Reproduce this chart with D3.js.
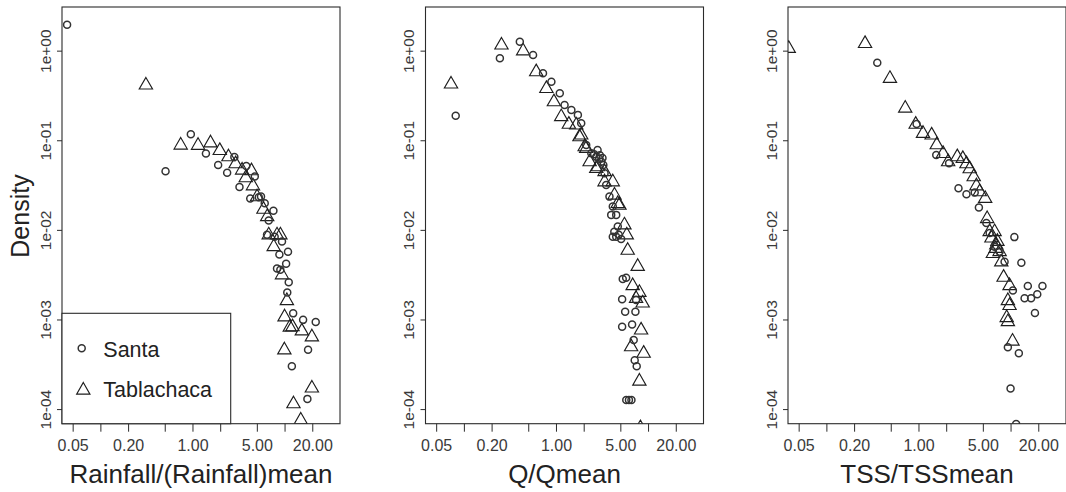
<!DOCTYPE html>
<html>
<head>
<meta charset="utf-8">
<script src="https://cdn.jsdelivr.net/npm/d3@7"></script>
<style>
  body { margin: 0; background: #fff; }
  svg { display: block; font-family: "Liberation Sans", Arial, sans-serif; }
</style>
</head>
<body>
<svg id="chart" width="1066" height="492"></svg>
<script>
// density vs normalised value, [x, density] pairs
const rainfallSanta = [[0.0435,1.94],[0.96,0.117],[0.51,0.045],[1.40,0.071],[1.90,0.053],[2.38,0.0435],[2.85,0.065],[3.84,0.0517],[4.75,0.0395],[3.24,0.030],[4.24,0.0224],[5.25,0.0231],[5.55,0.0235],[6.09,0.0198],[7.57,0.0163],[6.73,0.0127],[6.45,0.0088],[7.81,0.0084],[9.38,0.0074],[8.79,0.0053],[10.9,0.0057],[10.4,0.0042],[8.28,0.0037],[9.0,0.0036],[11.1,0.0026],[10.7,0.0020],[12.4,0.00117],[15.9,0.00099],[21.8,0.00094],[18.0,0.00046],[12.0,0.00030],[17.7,0.00013]];
const rainfallTabla = [[0.312,0.433],[0.745,0.0926],[1.15,0.092],[1.57,0.098],[1.98,0.0805],[2.46,0.0685],[2.94,0.0573],[3.46,0.0487],[3.79,0.040],[4.37,0.0479],[4.54,0.0325],[5.03,0.0245],[5.90,0.0178],[6.48,0.0147],[6.73,0.0092],[7.62,0.0068],[8.28,0.0092],[9.01,0.0092],[9.38,0.0033],[10.6,0.0017],[10.0,0.00112],[11.4,0.00086],[12.2,0.00087],[15.4,0.00078],[19.8,0.00067],[9.95,0.00048],[19.8,0.00018],[12.5,0.00012],[15.0,0.000079]];

const qSanta = [[0.0815,0.188],[0.246,0.822],[0.405,1.26],[0.564,0.895],[0.723,0.56],[0.892,0.451],[1.10,0.335],[1.24,0.248],[1.47,0.218],[1.73,0.192],[1.88,0.155],[2.13,0.0887],[2.42,0.0716],[2.6,0.07],[2.74,0.0656],[2.83,0.078],[2.95,0.062],[3.0,0.068],[3.1,0.0577],[3.2,0.0634],[3.27,0.053],[3.37,0.0428],[3.51,0.0317],[3.81,0.0235],[4.14,0.0182],[3.98,0.0147],[4.51,0.0147],[4.69,0.0109],[4.51,0.0084],[4.3,0.0095],[4.8,0.0088],[5.1,0.0079],[4.14,0.0084],[5.31,0.00283],[5.78,0.00293],[5.23,0.00168],[7.41,0.00165],[5.64,0.00122],[7.29,0.00122],[5.23,0.00083],[6.71,0.00088],[6.98,0.00059],[7.16,0.00035],[7.53,0.00030],[5.8,0.000126],[6.2,0.000126],[6.6,0.000126]];
const qTabla = [[0.0725,0.444],[0.256,1.21],[0.44,1.04],[0.61,0.609],[0.787,0.396],[0.95,0.282],[1.14,0.192],[1.38,0.158],[1.66,0.155],[1.80,0.1146],[1.88,0.12],[2.05,0.0887],[2.13,0.0849],[2.32,0.0603],[2.74,0.0507],[2.85,0.053],[3.37,0.0467],[3.37,0.036],[4.14,0.036],[4.32,0.0256],[4.69,0.0206],[4.89,0.0198],[5.54,0.0119],[5.87,0.0092],[6.01,0.0062],[7.72,0.0041],[6.81,0.0025],[8.05,0.0021],[7.41,0.0018],[8.74,0.0016],[8.4,0.0008],[6.55,0.00052],[8.96,0.00044],[8.05,0.000215],[8.26,0.000065]];

const tssSanta = [[0.357,0.735],[0.954,0.152],[1.56,0.0686],[2.15,0.0554],[2.72,0.0291],[3.32,0.025],[4.08,0.0261],[4.53,0.0178],[5.46,0.0119],[5.93,0.0092],[6.71,0.0065],[11.0,0.0083],[7.6,0.0057],[8.61,0.0044],[13.1,0.0043],[10.6,0.0021],[15.4,0.00237],[22.2,0.00237],[14.2,0.00173],[16.7,0.00173],[19.5,0.00191],[18.4,0.00118],[9.35,0.00049],[12.3,0.00042],[10.0,0.00017],[11.5,0.000068]];
const tssTabla = [[0.039,1.11],[0.263,1.26],[0.49,0.513],[0.718,0.239],[0.933,0.158],[1.12,0.125],[1.39,0.12],[1.58,0.0933],[1.85,0.0746],[2.1,0.0603],[2.64,0.0686],[3.03,0.0656],[3.32,0.0573],[3.6,0.0504],[3.98,0.041],[4.26,0.0325],[4.62,0.0279],[5.3,0.0235],[5.57,0.014],[5.93,0.01],[6.71,0.01],[6.2,0.0085],[7.2,0.0078],[7.0,0.0071],[6.9,0.0065],[7.6,0.006],[6.43,0.0057],[7.93,0.0046],[8.4,0.0031],[9.75,0.0025],[9.35,0.0017],[9.75,0.0015],[9.08,0.0011],[9.35,0.00099],[10.5,0.0006]];

const xTitles = ["Rainfall/(Rainfall)mean", "Q/Qmean", "TSS/TSSmean"];
const seriesNames = ["Santa", "Tablachaca"];
const xTicks = [0.05, 0.1, 0.2, 0.5, 1, 2, 5, 10, 20];
const xTickLabels = ["0.05", "", "0.20", "", "1.00", "", "5.00", "", "20.00"];
const yTicks = [1, 0.1, 0.01, 0.001, 0.0001];
const yTickLabels = ["1e+00", "1e-01", "1e-02", "1e-03", "1e-04"];

const panelLeft = [62, 425.5, 788];
const panelW = 278;
const plotTop = 7, plotBottom = 423.7;
const ink = "#2b2b2b";

const panels = [
    {title: xTitles[0], santa: rainfallSanta, tabla: rainfallTabla},
    {title: xTitles[1], santa: qSanta, tabla: qTabla},
    {title: xTitles[2], santa: tssSanta, tabla: tssTabla}
];

const svg = d3.select("#chart");

const x = d3.scaleLog().domain([0.0383, 40]).range([0, panelW]);
const y = d3.scaleLog().domain([3.07, 6.87e-5]).range([plotTop, plotBottom]);

const triPath = "M0,-5.8L6.65,5.8L-6.65,5.8Z";

const drawCircle = (sel, cx, cy) => sel.append("circle")
    .attr("cx", cx).attr("cy", cy).attr("r", 3.5)
    .attr("fill", "none").attr("stroke", "#333").attr("stroke-width", 1.5);

const drawTriangle = (sel, cx, cy) => sel.append("path")
    .attr("d", triPath).attr("transform", `translate(${cx},${cy})`)
    .attr("fill", "none").attr("stroke", "#1e1e1e").attr("stroke-width", 1.15);

panels.forEach((p, i) => {
    const g = svg.append("g").attr("transform", `translate(${panelLeft[i]},0)`);

    g.append("clipPath").attr("id", "clip" + i)
        .append("rect").attr("x", 0).attr("y", plotTop)
        .attr("width", panelW).attr("height", plotBottom - plotTop);

    const pts = g.append("g").attr("clip-path", `url(#clip${i})`);

    pts.selectAll("path.tri").data(p.tabla).enter()
        .append("path").attr("class", "tri")
        .attr("d", triPath)
        .attr("transform", d => `translate(${x(d[0])},${y(d[1])})`)
        .attr("fill", "none").attr("stroke", "#1e1e1e").attr("stroke-width", 1.15);

    pts.selectAll("circle").data(p.santa).enter()
        .append("circle")
        .attr("cx", d => x(d[0])).attr("cy", d => y(d[1])).attr("r", 3.5)
        .attr("fill", "none").attr("stroke", "#333").attr("stroke-width", 1.5);

    g.append("rect")
        .attr("x", 0).attr("y", plotTop)
        .attr("width", panelW).attr("height", plotBottom - plotTop)
        .attr("fill", "none").attr("stroke", ink).attr("stroke-width", 1.1);

    const xAxis = g.append("g")
        .attr("transform", `translate(0,${plotBottom})`)
        .call(d3.axisBottom(x).tickValues(xTicks).tickFormat((d, k) => xTickLabels[k]).tickSize(8));
    xAxis.select(".domain").remove();
    xAxis.attr("font-size", null).attr("font-family", null);
    xAxis.selectAll("line").attr("stroke", ink);
    xAxis.selectAll("text")
        .attr("y", 27).attr("dy", null)
        .attr("font-size", 16).attr("fill", "#3a3a3a");

    const yAxis = g.append("g")
        .call(d3.axisLeft(y).tickValues(yTicks).tickFormat((d, k) => yTickLabels[k]).tickSize(5));
    yAxis.select(".domain").remove();
    yAxis.attr("font-size", null).attr("font-family", null);
    yAxis.selectAll("line").attr("stroke", ink);
    yAxis.selectAll("text")
        .attr("x", 0).attr("dy", null)
        .attr("transform", "translate(-11.5,0) rotate(-90)")
        .attr("text-anchor", "middle")
        .attr("font-size", 15.5).attr("fill", "#3a3a3a");

    g.append("text")
        .attr("x", panelW / 2).attr("y", 483)
        .attr("text-anchor", "middle")
        .attr("font-size", 26).attr("fill", "#222")
        .text(p.title);

    if (i === 0) {
        const legend = g.append("g");
        legend.append("rect")
            .attr("x", 0).attr("y", 313.3)
            .attr("width", 168.7).attr("height", plotBottom - 313.3)
            .attr("fill", "#fff").attr("stroke", ink).attr("stroke-width", 1.1);
        drawCircle(legend, 19.7, 348.3);
        drawTriangle(legend, 21.3, 388.3);
        legend.selectAll("text.lab").data(seriesNames).enter()
            .append("text").attr("class", "lab")
            .attr("x", 41.3).attr("y", (d, k) => [357.3, 396.7][k])
            .attr("font-size", 21.5).attr("fill", "#222")
            .text(d => d);
    }
});

svg.append("text")
    .attr("transform", "translate(29,216) rotate(-90)")
    .attr("text-anchor", "middle")
    .attr("font-size", 25).attr("fill", "#222")
    .text("Density");
</script>
</body>
</html>
